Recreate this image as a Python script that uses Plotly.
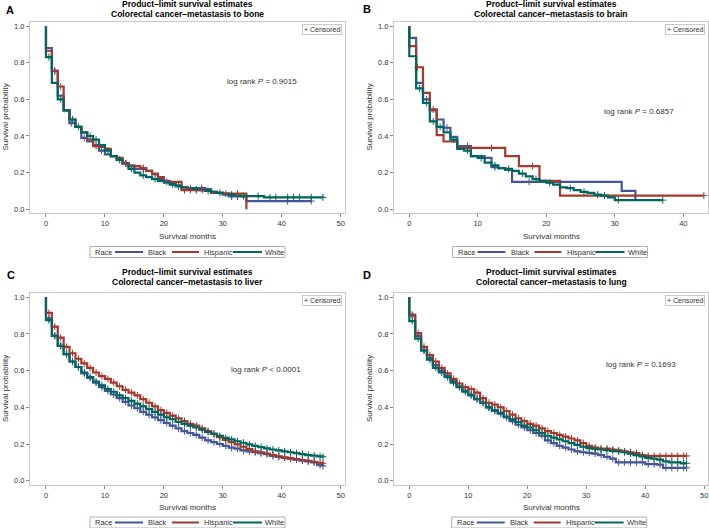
import plotly.graph_objects as go

W, H = 709, 528
FONT = "Liberation Sans, Arial, sans-serif"
RACES = ["Black", "Hispanic", "White"]
COLORS = {"Black": "#445694", "Hispanic": "#A23A2E", "White": "#01665E"}

# ---------------- data (survival probability at month index) ----------------
BONE_BLACK = [0.88, 0.755, 0.62, 0.54, 0.47, 0.45, 0.39, 0.37, 0.35, 0.32, 0.30, 0.29, 0.27, 0.25, 0.24,
              0.22, 0.22, 0.21, 0.19, 0.165, 0.15, 0.14, 0.13, 0.12, 0.115, 0.115, 0.115, 0.11, 0.095,
              0.09, 0.08, 0.07, 0.07, 0.07, 0.045]
BONE_HISP = [0.865, 0.755, 0.67, 0.54, 0.49, 0.45, 0.42, 0.38, 0.345, 0.34, 0.33, 0.29, 0.28, 0.25, 0.235,
             0.235, 0.225, 0.21, 0.195, 0.175, 0.155, 0.15, 0.15, 0.105, 0.105, 0.105, 0.105, 0.10, 0.09,
             0.09, 0.085, 0.085, 0.085, 0.085, 0.0]
BONE_WHITE = [0.83, 0.69, 0.60, 0.54, 0.49, 0.45, 0.42, 0.40, 0.38, 0.35, 0.32, 0.29, 0.27, 0.25, 0.22,
              0.20, 0.185, 0.175, 0.165, 0.155, 0.145, 0.135, 0.125, 0.12, 0.115, 0.11, 0.105, 0.10,
              0.095, 0.09, 0.085, 0.08, 0.075, 0.072, 0.072, 0.072, 0.072, 0.065]
BONE_END = {"Black": 45, "Hispanic": 34, "White": 47}
BONE_CENS = {
    "Black": [1.5, 4.3, 6.5, 9.4, 13.6, 16.5, 20.5, 24.5, 26.4, 31.5, 32.5, 41, 45],
    "Hispanic": [1.5, 2.5, 8.5, 13.5, 16.5, 23.5, 24.5, 25.5, 26.5, 30.5, 32.5],
    "White": [0.5, 2.5, 4.5, 5.5, 7.5, 8.5, 10.5, 12.5, 14.5, 16.5, 18.5, 21.5, 22.5, 25.5, 27.5,
              29.5, 31.5, 33.5, 36, 38, 39, 41, 42, 43, 45, 47],
}

BRAIN_BLACK = [0.935, 0.69, 0.60, 0.54, 0.49, 0.445, 0.395, 0.345, 0.345, 0.29, 0.29, 0.28, 0.23, 0.225,
               0.215, 0.15, 0.15, 0.15, 0.15, 0.15, 0.15, 0.15, 0.15, 0.15, 0.15, 0.15, 0.15, 0.15, 0.15,
               0.15, 0.15, 0.10, 0.10, 0.05]
BRAIN_HISP = [0.89, 0.775, 0.635, 0.545, 0.405, 0.37, 0.37, 0.335, 0.335, 0.335, 0.335, 0.335, 0.335,
              0.335, 0.29, 0.29, 0.235, 0.235, 0.235, 0.155, 0.155, 0.155, 0.075]
BRAIN_WHITE = [0.835, 0.66, 0.58, 0.48, 0.45, 0.42, 0.38, 0.33, 0.32, 0.29, 0.28, 0.255, 0.24, 0.225,
               0.22, 0.21, 0.195, 0.18, 0.165, 0.155, 0.145, 0.135, 0.12, 0.115, 0.105, 0.095, 0.09,
               0.08, 0.075, 0.065, 0.05]
BRAIN_END = {"Black": 33, "Hispanic": 43, "White": 37}
BRAIN_CENS = {
    "Black": [2.5, 5.5, 8.5, 12.5, 17.5],
    "Hispanic": [1.2, 3.5, 12, 18, 43],
    "White": [1.5, 2.5, 3.5, 4.5, 6.5, 8.5, 10.5, 12.5, 14.5, 16.5, 18.5, 20.5, 23.5, 25.5, 27.5,
              28.5, 30.5, 37],
}

LIVER_BLACK = [0.885, 0.79, 0.735, 0.69, 0.65, 0.62, 0.585, 0.56, 0.535, 0.51, 0.49, 0.47, 0.45, 0.43,
               0.41, 0.395, 0.375, 0.36, 0.345, 0.33, 0.315, 0.30, 0.285, 0.27, 0.26, 0.25, 0.235, 0.22,
               0.21, 0.20, 0.19, 0.18, 0.175, 0.165, 0.16, 0.155, 0.15, 0.145, 0.135, 0.13, 0.125,
               0.12, 0.115, 0.11, 0.105, 0.10, 0.085, 0.08]
LIVER_HISP = [0.915, 0.84, 0.78, 0.73, 0.695, 0.665, 0.64, 0.615, 0.59, 0.57, 0.555, 0.535, 0.515, 0.495,
              0.48, 0.465, 0.445, 0.425, 0.405, 0.385, 0.37, 0.355, 0.34, 0.325, 0.31, 0.30, 0.285,
              0.27, 0.255, 0.238, 0.222, 0.21, 0.198, 0.185, 0.172, 0.16, 0.155, 0.148, 0.14, 0.133,
              0.127, 0.122, 0.118, 0.113, 0.108, 0.103, 0.098, 0.095]
LIVER_WHITE = [0.875, 0.79, 0.735, 0.69, 0.65, 0.62, 0.59, 0.565, 0.54, 0.52, 0.50, 0.485, 0.465, 0.45,
               0.435, 0.42, 0.405, 0.39, 0.375, 0.36, 0.345, 0.335, 0.32, 0.31, 0.30, 0.29, 0.278,
               0.266, 0.255, 0.244, 0.233, 0.225, 0.215, 0.207, 0.198, 0.19, 0.183, 0.176, 0.17,
               0.165, 0.16, 0.155, 0.15, 0.145, 0.14, 0.137, 0.133, 0.13]
LIVER_END = {"Black": 47, "Hispanic": 47, "White": 47}

LUNG_BLACK = [0.90, 0.79, 0.71, 0.67, 0.63, 0.60, 0.57, 0.545, 0.515, 0.49, 0.47, 0.445, 0.425, 0.40,
              0.38, 0.365, 0.345, 0.325, 0.305, 0.29, 0.275, 0.26, 0.245, 0.22, 0.205, 0.19, 0.18, 0.17,
              0.16, 0.155, 0.152, 0.148, 0.14, 0.13, 0.12, 0.10, 0.10, 0.10, 0.10, 0.10, 0.09, 0.09,
              0.088, 0.07, 0.07, 0.07, 0.07, 0.07]
LUNG_HISP = [0.905, 0.805, 0.73, 0.685, 0.65, 0.615, 0.585, 0.555, 0.53, 0.51, 0.50, 0.48, 0.45, 0.425,
             0.415, 0.40, 0.38, 0.36, 0.34, 0.325, 0.31, 0.30, 0.285, 0.27, 0.26, 0.25, 0.24, 0.23,
             0.22, 0.205, 0.19, 0.18, 0.175, 0.175, 0.17, 0.165, 0.16, 0.155, 0.15, 0.14, 0.135,
             0.135, 0.135, 0.135, 0.135, 0.135, 0.135, 0.135]
LUNG_WHITE = [0.87, 0.775, 0.71, 0.66, 0.615, 0.59, 0.565, 0.535, 0.51, 0.485, 0.465, 0.445, 0.425, 0.40,
              0.385, 0.37, 0.35, 0.335, 0.32, 0.30, 0.29, 0.275, 0.26, 0.245, 0.235, 0.225, 0.215,
              0.205, 0.195, 0.185, 0.178, 0.173, 0.17, 0.167, 0.163, 0.16, 0.155, 0.148, 0.14, 0.133,
              0.125, 0.12, 0.115, 0.105, 0.10, 0.10, 0.095, 0.095]
LUNG_END = {"Black": 47, "Hispanic": 47, "White": 47}

MONTHLY_CENS = [0.5, 1.5, 2.5, 3.5, 4.5, 5.5, 6.5, 7.5, 8.5, 9.5, 10.5, 11.5, 12.5, 13.5, 14.5, 15.5,
                16.5, 17.5, 18.5, 19.5, 20.5, 21.5, 22.5, 23.5, 24.5, 25.5, 26.5, 27.5, 28.5, 29.5,
                30.5, 31.5, 32.5, 33.5, 34.5, 35.5, 36.5, 37.5, 38.5, 39.5, 40.5, 41.5, 42.5, 43.5,
                44.5, 45.5, 46.5, 47]
LIVER_CENS = {"Black": MONTHLY_CENS, "Hispanic": MONTHLY_CENS, "White": MONTHLY_CENS}
LUNG_CENS = {"Black": MONTHLY_CENS, "Hispanic": MONTHLY_CENS, "White": MONTHLY_CENS}

X_TICKS_50 = [0, 10, 20, 30, 40, 50]
X_TICKS_40 = [0, 10, 20, 30, 40]
Y_TICKS = [0.0, 0.2, 0.4, 0.6, 0.8, 1.0]

PANELS = [
    dict(letter="A", site="bone", data={"Black": BONE_BLACK, "Hispanic": BONE_HISP, "White": BONE_WHITE},
         end=BONE_END, cens=BONE_CENS, p="log rank <i>P</i> = 0.9015", pxy=(36.6, 0.695),
         xpix=(30, 345), ypix=(22, 213), xr=[-2.71, 50.73], yr=[-0.0202, 1.0218], xt=X_TICKS_50,
         title_y=(4, 14), letter_xy=(10, 10), leg_cx=187.5, leg_cy=252),
    dict(letter="B", site="brain", data={"Black": BRAIN_BLACK, "Hispanic": BRAIN_HISP, "White": BRAIN_WHITE},
         end=BRAIN_END, cens=BRAIN_CENS, p="log rank <i>P</i> = 0.6857", pxy=(33.5, 0.531),
         xpix=(394, 708), ypix=(22, 213), xr=[-2.23, 43.6], yr=[-0.0202, 1.0218], xt=X_TICKS_40,
         title_y=(4, 14), letter_xy=(366.5, 9.5), leg_cx=550, leg_cy=252),
    dict(letter="C", site="liver", data={"Black": LIVER_BLACK, "Hispanic": LIVER_HISP, "White": LIVER_WHITE},
         end=LIVER_END, cens=LIVER_CENS, p="log rank <i>P</i> &lt; 0.0001", pxy=(37.3, 0.604),
         xpix=(30, 345), ypix=(293.3, 484.7), xr=[-2.71, 50.73], yr=[-0.0218, 1.0218], xt=X_TICKS_50,
         title_y=(272.3, 282.3), letter_xy=(11, 274.5), leg_cx=187.5, leg_cy=522.5),
    dict(letter="D", site="lung", data={"Black": LUNG_BLACK, "Hispanic": LUNG_HISP, "White": LUNG_WHITE},
         end=LUNG_END, cens=LUNG_CENS, p="log rank <i>P</i> = 0.1693", pxy=(39.2, 0.636),
         xpix=(394, 708), ypix=(293.3, 484.7), xr=[-2.59, 50.63], yr=[-0.0218, 1.0218], xt=X_TICKS_50,
         title_y=(272.3, 282.3), letter_xy=(367, 275), leg_cx=549.2, leg_cy=522.5),
]


def step_xy(vals, end):
    xs = [0] + list(range(len(vals))) + [end]
    ys = [1.0] + list(vals) + [vals[-1]]
    return xs, ys


def value_at(vals, t):
    return vals[min(int(t), len(vals) - 1)]


def px_x(v):
    return v / W


def px_y(v):
    return 1 - v / H


fig = go.Figure()
annotations = []
shapes = []
layout = {}
TXT = "#333333"

for i, p in enumerate(PANELS):
    n = "" if i == 0 else str(i + 1)
    xa, ya = "x" + n, "y" + n
    for race in RACES:
        vals = p["data"][race]
        xs, ys = step_xy(vals, p["end"][race])
        fig.add_trace(go.Scatter(x=xs, y=ys, mode="lines", line=dict(shape="hv", color=COLORS[race], width=2.2),
                                 name=race, xaxis=xa, yaxis=ya, showlegend=False, hoverinfo="skip"))
    for race in RACES:
        vals = p["data"][race]
        ct = [c for c in p["cens"][race] if c <= p["end"][race]]
        cy = [value_at(vals, c) for c in ct]
        fig.add_trace(go.Scatter(x=ct, y=cy, mode="markers",
                                 marker=dict(symbol="cross-thin", size=5, line=dict(width=1, color=COLORS[race]),
                                             color=COLORS[race]),
                                 xaxis=xa, yaxis=ya, showlegend=False, hoverinfo="skip"))

    x0, x1 = p["xpix"]
    y0, y1 = p["ypix"]
    xdom = [px_x(x0), px_x(x1)]
    ydom = [px_y(y1), px_y(y0)]
    axis_common = dict(showline=True, mirror=True, linecolor="#C8C8C8", linewidth=1, showgrid=False,
                       zeroline=False, ticks="outside", ticklen=3, tickcolor="#888888", automargin=False,
                       tickfont=dict(size=7.5, color=TXT, family=FONT))
    layout["xaxis" + n] = dict(axis_common, domain=xdom, range=p["xr"], tickvals=p["xt"], anchor=ya)
    layout["yaxis" + n] = dict(axis_common, domain=ydom, range=p["yr"], tickvals=Y_TICKS, tickformat=".1f",
                               anchor=xa)
    cxp = (x0 + x1) / 2
    cyp = (y0 + y1) / 2
    # axis titles
    annotations.append(dict(text="Survival months", x=px_x(cxp), y=px_y(y1 + 23), xref="paper", yref="paper",
                            showarrow=False, xanchor="center", yanchor="middle",
                            font=dict(size=8, color=TXT, family=FONT)))
    annotations.append(dict(text="Survival probability", x=px_x(x0 - 25), y=px_y(cyp), xref="paper",
                            yref="paper", showarrow=False, xanchor="center", yanchor="middle", textangle=-90,
                            font=dict(size=8, color=TXT, family=FONT)))
    # titles
    annotations.append(dict(text="<b>Product\u2013limit survival estimates</b>", x=px_x(cxp),
                            y=px_y(p["title_y"][0]), xref="paper", yref="paper", showarrow=False,
                            xanchor="center", yanchor="middle", font=dict(size=8.5, color="#000000", family=FONT)))
    annotations.append(dict(text="<b>Colorectal cancer\u2013metastasis to %s</b>" % p["site"], x=px_x(cxp),
                            y=px_y(p["title_y"][1]), xref="paper", yref="paper", showarrow=False,
                            xanchor="center", yanchor="middle", font=dict(size=8.5, color="#000000", family=FONT)))
    # panel letter
    annotations.append(dict(text="<b>%s</b>" % p["letter"], x=px_x(p["letter_xy"][0]), y=px_y(p["letter_xy"][1]),
                            xref="paper", yref="paper", showarrow=False, xanchor="center", yanchor="middle",
                            font=dict(size=11, color="#000000", family=FONT)))
    # censored box
    annotations.append(dict(text="+ Censored", x=px_x(x1 - 3), y=px_y(y0 + 7.5), xref="paper",
                            yref="paper", showarrow=False, xanchor="right", yanchor="middle",
                            bordercolor="#C8C8C8", borderwidth=1, borderpad=1, bgcolor="white",
                            font=dict(size=7, color=TXT, family=FONT)))
    # log rank
    annotations.append(dict(text=p["p"], x=p["pxy"][0], y=p["pxy"][1], xref=xa, yref=ya, showarrow=False,
                            xanchor="center", yanchor="middle", font=dict(size=8, color=TXT, family=FONT)))

    # legend (drawn as a key box below the x-axis title)
    L = p["leg_cx"] - 97.5
    cy = p["leg_cy"]
    shapes.append(dict(type="rect", xref="paper", yref="paper", x0=px_x(L), x1=px_x(L + 195),
                       y0=px_y(cy + 5.5), y1=px_y(cy - 5.5), line=dict(color="#B0B0B0", width=1),
                       fillcolor="white", layer="above"))
    annotations.append(dict(text="Race", x=px_x(L + 3), y=px_y(cy), xref="paper", yref="paper",
                            showarrow=False, xanchor="left", yanchor="middle",
                            font=dict(size=7.5, color=TXT, family=FONT)))
    key_pos = {"Black": (25, 53, 56), "Hispanic": (82, 109, 112), "White": (143, 172, 173)}
    for race in RACES:
        a, b, t = key_pos[race]
        shapes.append(dict(type="line", xref="paper", yref="paper", x0=px_x(L + a), x1=px_x(L + b),
                           y0=px_y(cy), y1=px_y(cy), line=dict(color=COLORS[race], width=2), layer="above"))
        annotations.append(dict(text=race, x=px_x(L + t), y=px_y(cy), xref="paper", yref="paper",
                                showarrow=False, xanchor="left", yanchor="middle",
                                font=dict(size=7.5, color=TXT, family=FONT)))

fig.update_layout(width=W, height=H, margin=dict(l=0, r=0, t=0, b=0, autoexpand=False), paper_bgcolor="white",
                  plot_bgcolor="white", font=dict(family=FONT), annotations=annotations, shapes=shapes,
                  showlegend=False, **layout)

fig.write_html("out.html", config={"displayModeBar": False},
               post_script="document.body.style.margin='0';document.body.style.overflow='hidden';")
